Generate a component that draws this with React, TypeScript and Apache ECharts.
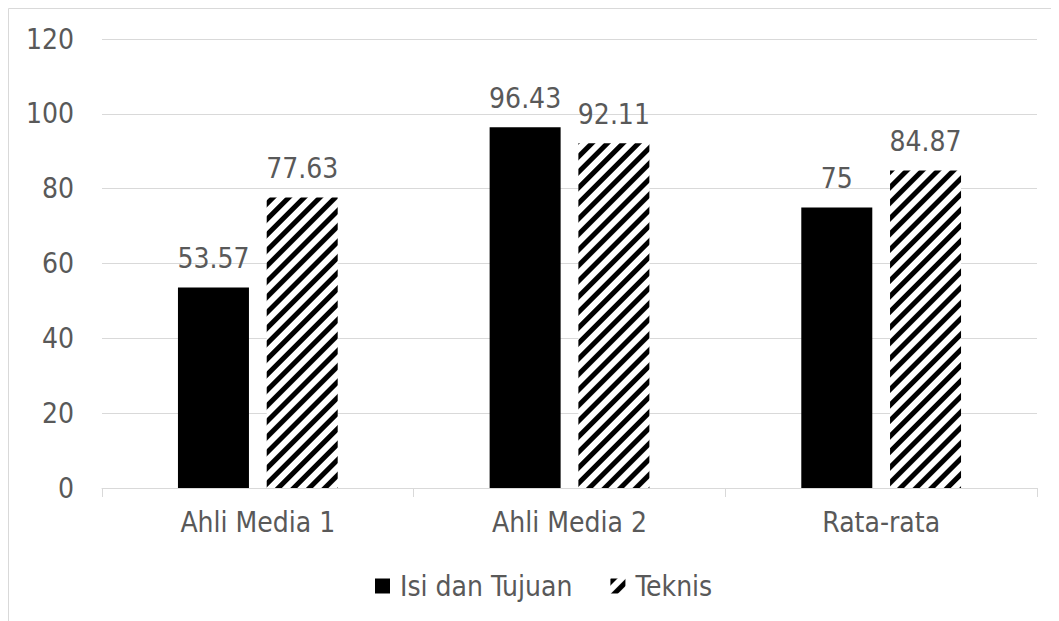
import React, { useEffect, useRef } from "react";
import * as echarts from "echarts";

const categories = ["Ahli Media 1", "Ahli Media 2", "Rata-rata"];
const isiValues = [53.57, 96.43, 75];
const teknisValues = [77.63, 92.11, 84.87];
const seriesNames = ["Isi dan Tujuan", "Teknis"];

const FONT = "'DejaVu Sans Condensed', 'Liberation Sans', sans-serif";
const TEXT = "#595959";
const LINE = "#d9d9d9";

export default function App() {
  const ref = useRef<HTMLDivElement>(null);
  useEffect(() => {
    if (!ref.current) return;
    const chart = echarts.init(ref.current, undefined, { renderer: "svg" });
    const label = {
      show: true,
      position: "top",
      distance: 15,
      color: TEXT,
      fontSize: 28,
      fontFamily: FONT,
    };
    chart.setOption({
      animation: false,
      backgroundColor: "#fff",
      textStyle: { fontFamily: FONT },
      graphic: [
        {
          type: "rect",
          shape: { x: 0.5, y: 0.5, width: 3000, height: 3000 },
          style: { fill: "none", stroke: LINE, lineWidth: 1 },
          silent: true,
        },
      ],
      grid: { left: 94, right: 22, top: 31, bottom: 133, containLabel: false },
      legend: {
        data: seriesNames,
        left: 362,
        top: 559,
        itemWidth: 15,
        itemHeight: 15,
        itemGap: 38,
        icon: "rect",
        textStyle: { color: TEXT, fontSize: 28, fontFamily: FONT, padding: [0, 0, 0, 5] },
      },
      xAxis: {
        type: "category",
        data: categories,
        axisLine: { show: true, lineStyle: { color: LINE, width: 1 } },
        axisTick: { show: true, length: 9, lineStyle: { color: LINE } },
        axisLabel: { color: TEXT, fontSize: 28, fontFamily: FONT, margin: 20 },
      },
      yAxis: {
        type: "value",
        min: 0,
        max: 120,
        interval: 20,
        axisLine: { show: false },
        axisTick: { show: false },
        splitLine: { lineStyle: { color: LINE, width: 1 } },
        axisLabel: { color: TEXT, fontSize: 28, fontFamily: FONT, margin: 28 },
      },
      series: [
        {
          name: seriesNames[0],
          type: "bar",
          data: isiValues,
          barWidth: 71,
          barGap: "25%",
          itemStyle: { color: "#000" },
          label,
        },
        {
          name: seriesNames[1],
          type: "bar",
          data: teknisValues,
          barWidth: 71,
          barGap: "25%",
          itemStyle: {
            color: "#fff",
            decal: {
              symbol: "rect",
              symbolSize: 1,
              dashArrayX: [1, 0],
              dashArrayY: [5, 6],
              rotation: -Math.PI / 4,
              color: "#000",
            },
          },
          label,
        },
      ],
    });
    return () => chart.dispose();
  }, []);
  return <div ref={ref} style={{ width: 1051, height: 613 }} />;
}
